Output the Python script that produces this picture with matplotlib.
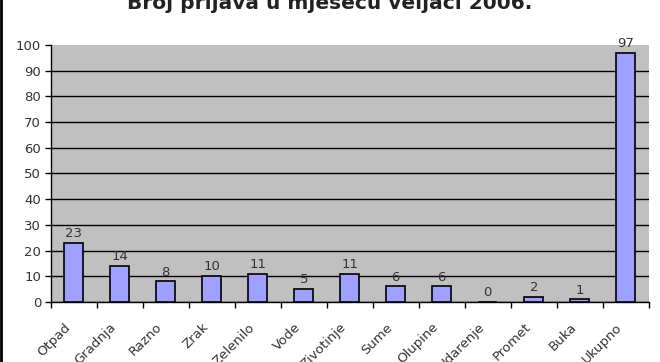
import matplotlib.pyplot as plt
import matplotlib.transforms as mtransforms
import numpy as np

# podaci
kategorije = ['Otpad', 'Gradnja', 'Razno', 'Zrak', 'Zelenilo', 'Vode', 'Zivotinje',
              'Sume', 'Olupine', 'Udarenje', 'Promet', 'Buka', 'Ukupno']
prijave = [23, 14, 8, 10, 11, 5, 11, 6, 6, 0, 2, 1, 97]
y_ticks = [0, 10, 20, 30, 40, 50, 60, 70, 80, 90, 100]

tekst = '#333333'

fig = plt.figure(figsize=(6.6, 3.62), dpi=100)
ax = fig.add_axes([0.077, 0.166, 0.906, 0.710])
ax.set_facecolor('#c0c0c0')

x = np.arange(len(kategorije))
ax.bar(x, prijave, width=0.42, color='#a0a0ff', edgecolor='black', linewidth=1.2, zorder=3)

for xi, v in zip(x, prijave):
    ax.annotate(str(v), (xi, v), xytext=(0, 2), textcoords='offset points',
                ha='center', va='bottom', fontsize=9.5, color=tekst)

ax.set_xlim(-0.5, len(kategorije) - 0.5)
ax.set_ylim(0, 100)
ax.set_yticks(y_ticks)
ax.tick_params(axis='y', labelsize=9.5, labelcolor=tekst, length=4, width=1,
               direction='out', pad=3)
ax.grid(axis='y', color='black', linewidth=1, zorder=1)
ax.get_ygridlines()[-1].set_visible(False)

ax.set_xticks(x)
ax.set_xticklabels(kategorije, rotation=45, ha='right', rotation_mode='anchor',
                   fontsize=9.5, color=tekst)
ax.tick_params(axis='x', length=0, pad=7)
ax.set_xticks(np.arange(-0.5, len(kategorije)), minor=True)
ax.tick_params(axis='x', which='minor', length=4, width=1, direction='out')

# pomak oznaka dolje-lijevo kao u originalu
pomak = mtransforms.ScaledTranslation(-10 / 100, -9 / 100, fig.dpi_scale_trans)
for lbl in ax.get_xticklabels():
    lbl.set_transform(lbl.get_transform() + pomak)

for s in ['top', 'right']:
    ax.spines[s].set_visible(False)
ax.spines['left'].set_linewidth(1)
ax.spines['bottom'].set_linewidth(1)

fig.text(0.5, 1 - 9 / 362, 'Broj prijava u mjesecu veljači 2006.', ha='center',
         va='baseline', fontsize=14.5, fontweight='bold', color='#222222')
fig.add_artist(plt.Line2D([0.002, 0.002], [0, 1], color='black', linewidth=2,
                          transform=fig.transFigure))

fig.savefig('out.png', dpi=100)
